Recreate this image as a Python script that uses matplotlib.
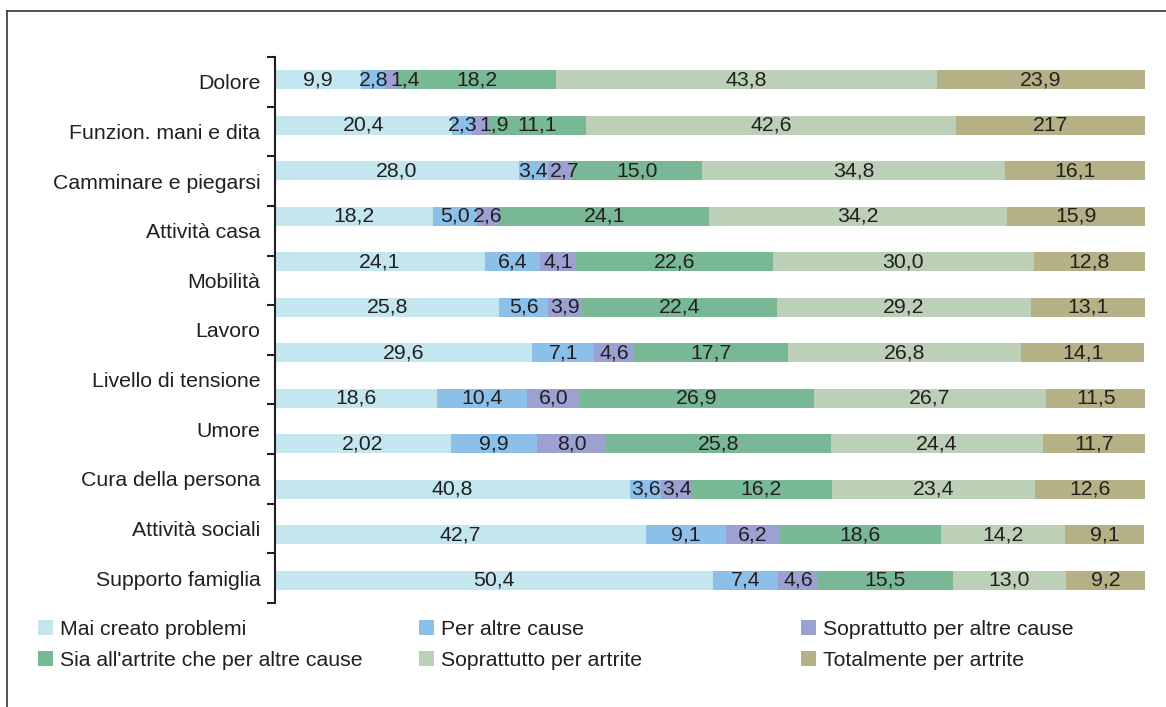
import matplotlib
matplotlib.use('Agg')
import matplotlib.pyplot as plt
from matplotlib.patches import Patch
from matplotlib.lines import Line2D
import numpy as np

plt.rcParams['font.family'] = ['Liberation Sans', 'DejaVu Sans']

# data
categories = ['Dolore', 'Funzion. mani e dita', 'Camminare e piegarsi', 'Attività casa',
              'Mobilità', 'Lavoro', 'Livello di tensione', 'Umore', 'Cura della persona',
              'Attività sociali', 'Supporto famiglia']
series = ['Mai creato problemi', 'Per altre cause', 'Soprattutto per altre cause',
          "Sia all'artrite che per altre cause", 'Soprattutto per artrite',
          'Totalmente per artrite']
mai_creato = [9.9, 20.4, 28.0, 18.2, 24.1, 25.8, 29.6, 18.6, 20.2, 40.8, 42.7, 50.4]
altre_cause = [2.8, 2.3, 3.4, 5.0, 6.4, 5.6, 7.1, 10.4, 9.9, 3.6, 9.1, 7.4]
sopr_altre = [1.4, 1.9, 2.7, 2.6, 4.1, 3.9, 4.6, 6.0, 8.0, 3.4, 6.2, 4.6]
sia_entrambe = [18.2, 11.1, 15.0, 24.1, 22.6, 22.4, 17.7, 26.9, 25.8, 16.2, 18.6, 15.5]
sopr_artrite = [43.8, 42.6, 34.8, 34.2, 30.0, 29.2, 26.8, 26.7, 24.4, 23.4, 14.2, 13.0]
tot_artrite = [23.9, 21.7, 16.1, 15.9, 12.8, 13.1, 14.1, 11.5, 11.7, 12.6, 9.1, 9.2]
# labels printed differently in the source
label_override = {(1, 5): '217', (8, 0): '2,02'}

colors = ['#c3e6ef', '#8dc0e8', '#9ba2d2', '#79b895', '#bbd0b7', '#b4b186']
txt_color = '#231f20'
fs = 15.3

data = [mai_creato, altre_cause, sopr_altre, sia_entrambe, sopr_artrite, tot_artrite]
n_bars = len(mai_creato)

fig = plt.figure(figsize=(11.66, 7.07), dpi=100)
ax = fig.add_axes([0.2358, 0.1471, 0.982 - 0.2358, 0.9194 - 0.1471])

y = np.arange(n_bars) + 0.5
left = np.zeros(n_bars)
texts = [[] for _ in range(n_bars)]
for j, vals in enumerate(data):
    vals = np.array(vals)
    ax.barh(y, vals, left=left, height=0.42, color=colors[j], linewidth=0)
    for i, v in enumerate(vals):
        lab = label_override.get((i, j), f'{v:.1f}'.replace('.', ','))
        t = ax.text(left[i] + v / 2, y[i], lab, ha='center', va='center',
                    fontsize=fs, color=txt_color)
        texts[i].append(t)
    left += vals

ax.set_xlim(0, 100)
ax.set_ylim(n_bars, 0)
ax.set_xticks([])

# push apart value labels of narrow segments so they do not overlap
fig.canvas.draw()
r = fig.canvas.get_renderer()
px_per_unit = ax.get_window_extent().width / 100.0
for row in texts:
    widths = [t.get_window_extent(r).width / px_per_unit for t in row]
    xs = [t.get_position()[0] for t in row]
    for k in range(1, len(row)):
        need = xs[k - 1] + (widths[k - 1] + widths[k]) / 2 + 2 / px_per_unit
        if xs[k] < need:
            xs[k] = need
            row[k].set_x(need)

# category labels on an 11-slot scale over the same axis height
nc = len(categories)
step = n_bars / nc
ax.set_yticks(np.arange(nc + 1) * step)
ax.set_yticklabels([])
ax.set_yticks((np.arange(nc) + 0.5) * step, minor=True)
ax.set_yticklabels(categories, minor=True, fontsize=fs, color=txt_color)
ax.tick_params(axis='y', which='major', direction='out', length=6, width=1.5, color='#231f20')
ax.tick_params(axis='y', which='minor', length=0, pad=10.5)

for s in ['top', 'right', 'bottom']:
    ax.spines[s].set_visible(False)
ax.spines['left'].set_linewidth(1.5)
ax.spines['left'].set_color('#231f20')

# legend: three columns placed by hand
col_x = [0.0330, 0.3597, 0.6873]
for c in range(3):
    hs = [Patch(facecolor=colors[c], edgecolor='none'),
          Patch(facecolor=colors[c + 3], edgecolor='none')]
    fig.legend(hs, [series[c], series[c + 3]], loc='upper left',
               bbox_to_anchor=(col_x[c], 0.123), frameon=False, fontsize=fs,
               handlelength=0.7, handleheight=0.7, handletextpad=0.3,
               labelspacing=0.55, borderaxespad=0, borderpad=0,
               labelcolor=txt_color)

# outer frame
fig.add_artist(Line2D([0.006, 1.0], [0.9844, 0.9844], color='#333333', lw=1.2))
fig.add_artist(Line2D([0.006, 0.006], [0.0, 0.9844], color='#333333', lw=1.2))

fig.savefig('out.png', dpi=100)
